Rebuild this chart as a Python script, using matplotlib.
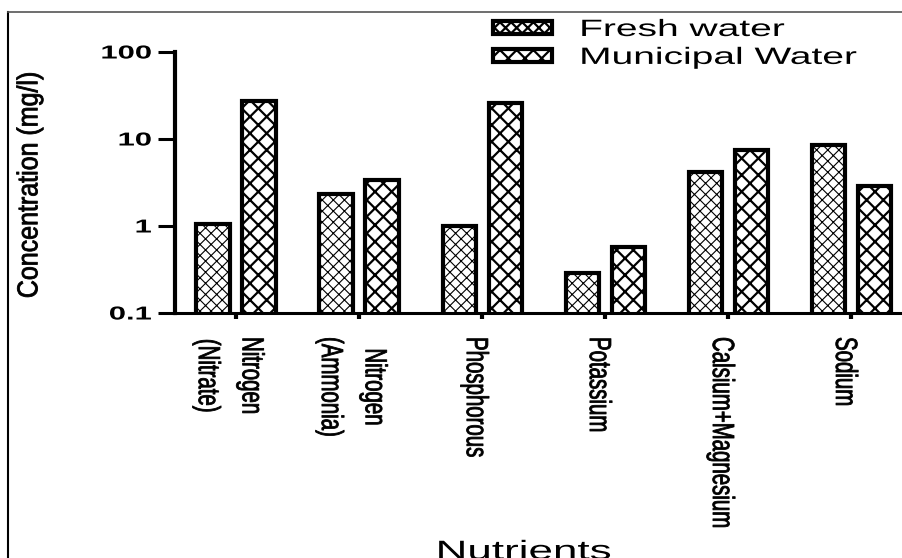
import numpy as np
import matplotlib
matplotlib.use("Agg")
import matplotlib.pyplot as plt
from matplotlib.patheffects import AbstractPathEffect
from matplotlib.transforms import Affine2D
from matplotlib.lines import Line2D
from matplotlib.ticker import NullLocator

nutrients = ["Nitrogen\n(Nitrate)", "Nitrogen\n(Ammonia)", "Phosphorous",
             "Potassium", "Calsium+Magnesium", "Sodium"]
fresh_water = [1.05, 2.35, 1.0, 0.29, 4.2, 8.6]
municipal_water = [27.5, 3.4, 26.0, 0.58, 7.4, 2.85]
y_ticks = [0.1, 1, 10, 100]
y_tick_labels = ["0.1", "1", "10", "100"]

# the source picture was stretched sideways, so its text looks wide
STRETCH = 1.65


class Stretch(AbstractPathEffect):
    # scale the glyphs of a text line around an anchor point,
    # optionally with an outline to make them a bit heavier
    def __init__(self, sx=1.0, sy=1.0, anchor=0.5, cy=36.0, shift=0.0, stroke=0.0):
        super().__init__()
        self.sx, self.sy, self.anchor, self.cy = sx, sy, anchor, cy
        self.shift, self.stroke = shift, stroke

    def draw_path(self, renderer, gc, tpath, affine, rgbFace=None):
        ext = tpath.get_extents()
        cx = ext.x0 + self.anchor * ext.width
        t = (Affine2D().translate(-cx, -self.cy).scale(self.sx, self.sy)
             .translate(cx, self.cy + self.shift))
        gc0 = renderer.new_gc()
        gc0.copy_properties(gc)
        if self.stroke > 0:
            gc0.set_linewidth(self.stroke)
            gc0.set_foreground(rgbFace)
        renderer.draw_path(gc0, tpath, t + affine, rgbFace)
        gc0.restore()


def main():
    plt.rcParams['font.family'] = ['Liberation Sans', 'DejaVu Sans']

    fig = plt.figure(figsize=(9.03, 5.58), dpi=100)
    ax = fig.add_axes([175 / 903, 1 - 313 / 558, 1 - 175 / 903, (313 - 52) / 558])

    x = np.arange(len(nutrients))
    width = 0.27
    off = 0.187

    plt.rcParams['hatch.linewidth'] = 0.8
    ax.bar(x - off, fresh_water, width, facecolor='white', edgecolor='black',
           linewidth=3, hatch='xxx', label='Fresh water')
    plt.rcParams['hatch.linewidth'] = 1.6
    ax.bar(x + off, municipal_water, width, facecolor='white', edgecolor='black',
           linewidth=3, hatch='xx', label='Municipal Water')

    ax.set_yscale('log')
    ax.set_ylim(0.1, 100)
    ax.set_xlim(-0.496, 5.42)

    ax.spines['top'].set_visible(False)
    ax.spines['right'].set_visible(False)
    ax.spines['left'].set_linewidth(3)
    ax.spines['bottom'].set_linewidth(2.2)

    ax.set_yticks(y_ticks)
    ax.set_yticklabels(y_tick_labels, fontsize=13.5, fontweight='bold')
    ax.yaxis.set_minor_locator(NullLocator())
    ax.tick_params(axis='y', length=12, width=2.2, pad=5)
    for lab in ax.get_yticklabels():
        lab.set_path_effects([Stretch(sx=STRETCH, anchor=1.0)])

    ax.set_xticks(x)
    ax.set_xticklabels(nutrients, rotation=270, fontsize=14.7, linespacing=2.65,
                       va='top', ha='center')
    ax.tick_params(axis='x', length=4.3, width=3, pad=13)
    for lab in ax.get_xticklabels():
        lab.set_path_effects([Stretch(sy=1.5, shift=-30, stroke=0.6)])

    # axis titles
    fig.text(29 / 903, 1 - 185 / 558, "Concentration (mg/l)", rotation=90,
             ha='center', va='center', fontsize=18,
             path_effects=[Stretch(sy=1.15, stroke=0.6)])
    fig.text(437 / 903, -0.002, "Nutrients", ha='left', va='baseline',
             fontsize=19.2, path_effects=[Stretch(sx=STRETCH, anchor=0.0)])

    leg = fig.legend(loc='upper left', bbox_to_anchor=(493 / 903, 1 - 19 / 558),
                     frameon=False, fontsize=17, handlelength=2.5, handleheight=0.5,
                     handletextpad=1.2, labelspacing=0.25, borderpad=0,
                     borderaxespad=0)
    for t in leg.get_texts():
        t.set_path_effects([Stretch(sx=STRETCH, anchor=0.0)])

    # frame of the original figure
    fig.add_artist(Line2D([8 / 903, 8 / 903], [0, 1 - 12 / 558], color='black', lw=1.5))
    fig.add_artist(Line2D([8 / 903, 1], [1 - 12 / 558, 1 - 12 / 558], color='#555555', lw=1.2))

    fig.savefig('out.png', dpi=100)


if __name__ == "__main__":
    main()
